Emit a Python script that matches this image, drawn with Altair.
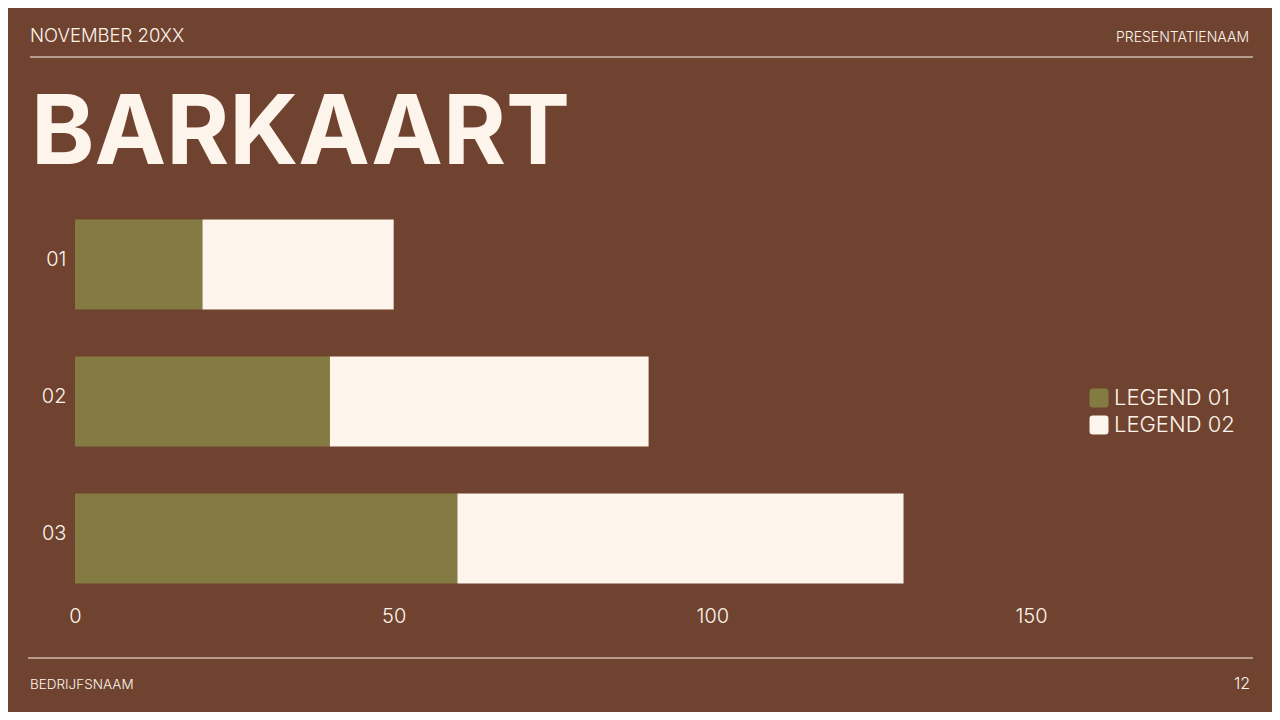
import altair as alt
import pandas as pd

# ---- data ----
categories = ["01", "02", "03"]
series_names = ["LEGEND 01", "LEGEND 02"]
legend01_values = [20, 40, 60]
legend02_values = [30, 50, 70]
x_ticks = [0, 50, 100, 150]

header_left = "NOVEMBER 20XX"
header_right = "PRESENTATIENAAM"
title_text = "BARKAART"
footer_left = "BEDRIJFSNAAM"
footer_right = "12"

BG = "#6F432F"
GREEN = "#847B42"
CREAM = "#FDF4EB"

rows = []
for c, a, b in zip(categories, legend01_values, legend02_values):
    rows.append({"cat": c, "series": series_names[0], "value": a})
    rows.append({"cat": c, "series": series_names[1], "value": b})
df = pd.DataFrame(rows)

W = 956
H = 411

bars = alt.Chart(df).mark_bar(strokeWidth=0).encode(
    y=alt.Y("cat:N", sort=categories, title=None,
            scale=alt.Scale(paddingInner=0.343, paddingOuter=0.1715),
            axis=alt.Axis(domain=False, ticks=False, labelPadding=9,
                          labelOffset=-5,
                          labelFontSize=20, labelColor=CREAM, labelFont="Inter",
                          labelFontWeight=300)),
    x=alt.X("value:Q", stack="zero", title=None,
            scale=alt.Scale(domain=[0, 150], nice=False),
            axis=alt.Axis(values=x_ticks, domain=False, ticks=False, grid=False,
                          labelFlush=False,
                          labelPadding=-1, labelFontSize=20, labelColor=CREAM,
                          labelFont="Inter", labelFontWeight=300)),
    color=alt.Color("series:N", sort=series_names, title=None,
                    scale=alt.Scale(domain=series_names, range=[GREEN, CREAM]),
                    legend=alt.Legend(
                        orient="none", legendX=1013, legendY=191,
                        symbolType="M-0.65,-1H0.65Q1,-1 1,-0.65V0.65Q1,1 0.65,1H-0.65Q-1,1 -1,0.65V-0.65Q-1,-1 -0.65,-1Z",
                        symbolSize=361, symbolStrokeWidth=0, symbolOpacity=1,
                        labelFontSize=22, labelColor=CREAM, labelFont="Inter",
                        labelFontWeight=300, rowPadding=5, labelOffset=4,
                        padding=0)),
    order=alt.Order("series:N", sort="ascending"),
)

def text_layer(txt, x, y, size, align="left", weight=400, font="Inter"):
    return alt.Chart(pd.DataFrame({"t": [txt]})).mark_text(
        align=align, baseline="alphabetic", fontSize=size, fontWeight=weight,
        font=font, color=CREAM
    ).encode(text="t:N", x=alt.value(x), y=alt.value(y))

def rule_layer(x1, x2, y):
    return alt.Chart(pd.DataFrame({"r": [0]})).mark_rule(
        color=CREAM, strokeWidth=1.2
    ).encode(x=alt.value(x1), x2=alt.value(x2), y=alt.value(y))

layers = [
    bars,
    text_layer(header_left, -45, -154, 18.5, weight=300),
    text_layer(header_right, 1174, -154, 14, align="right", weight=300),
    rule_layer(-45, 1178, -139),
    text_layer(title_text, -44, -32, 96, weight=700),
    rule_layer(-47, 1178, 462),
    text_layer(footer_left, -45, 493, 13.5, weight=300),
    text_layer(footer_right, 1175, 493, 16, align="right", weight=300),
]

chart = alt.layer(*layers).properties(
    width=W, height=H,
    autosize=alt.AutoSizeParams(type="none"),
    padding={"left": 67, "top": 188, "right": 241, "bottom": 105},
    background=BG,
).configure_view(stroke=None)

chart.save("out.html", embed_options={"renderer": "svg", "actions": False})
